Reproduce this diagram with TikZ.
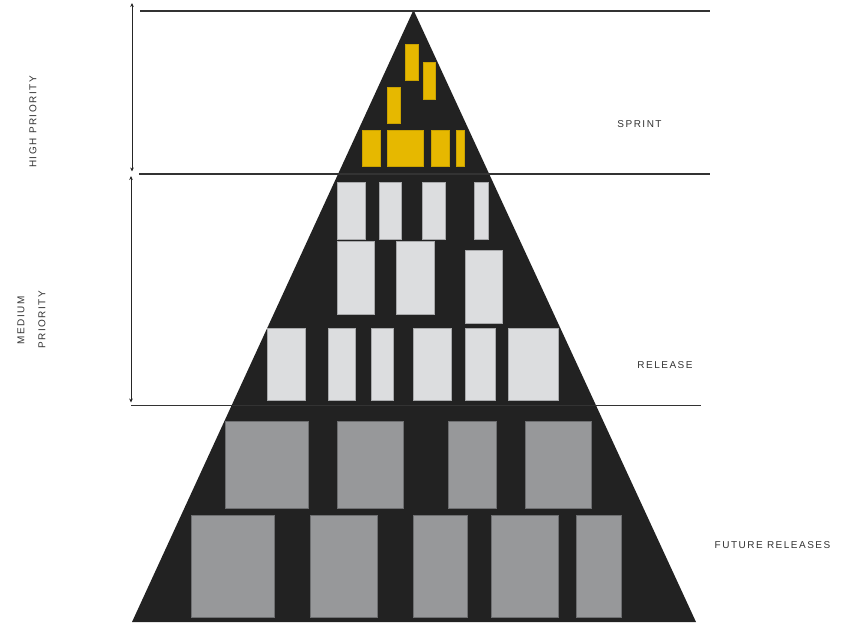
\documentclass[tikz,border=0pt]{standalone}
\usepackage{fontspec}
\usetikzlibrary{arrows.meta}
\newfontfamily\tagfont[LetterSpace=15]{Liberation Sans}
\definecolor{pyrdark}{HTML}{222222}
\definecolor{sprintfill}{HTML}{E6B800}
\definecolor{sprintedge}{HTML}{C9A200}
\definecolor{releasefill}{HTML}{DCDDDF}
\definecolor{releaseedge}{HTML}{A8A9AB}
\definecolor{futurefill}{HTML}{97989A}
\definecolor{futureedge}{HTML}{6E6F71}
\definecolor{tagtext}{HTML}{333333}
\begin{document}
\begin{tikzpicture}[x=1pt, y=-1pt, line cap=butt, line join=miter,
    sprintbox/.style={fill=sprintfill, draw=sprintedge, line width=0.6pt},
    releasebox/.style={fill=releasefill, draw=releaseedge, line width=0.6pt},
    futurebox/.style={fill=futurefill, draw=futureedge, line width=0.6pt},
    level/.style={draw=black!80, line width=1.1pt},
    span/.style={draw=black!85, line width=0.8pt, {Stealth[length=4pt,width=3.6pt]}-{Stealth[length=4pt,width=3.6pt]}},
    tag/.style={text=tagtext, inner sep=0pt, font=\tagfont\fontsize{10}{21}\selectfont}]
  \useasboundingbox (0,0) rectangle (846,622);
  \coordinate (apex) at (413.5,10);
  \coordinate (baseL) at (132,622);
  \coordinate (baseR) at (696,622);
  \fill[pyrdark] (apex) -- (baseR) -- (baseL) -- cycle;
  \draw[sprintbox] (405,44.3) rectangle (418.3,80.7);
  \draw[sprintbox] (423.7,62) rectangle (435.7,99.3);
  \draw[sprintbox] (387.3,87.3) rectangle (400.7,123.3);
  \draw[sprintbox] (362.3,130) rectangle (380.7,166);
  \draw[sprintbox] (387.3,130) rectangle (423.7,166);
  \draw[sprintbox] (431.3,130) rectangle (449,166);
  \draw[sprintbox] (456.7,130) rectangle (464.3,166);
  \draw[releasebox] (337,182) rectangle (365.7,239);
  \draw[releasebox] (379.7,182) rectangle (401.7,239);
  \draw[releasebox] (422.3,182) rectangle (445.7,239);
  \draw[releasebox] (474,182) rectangle (488.7,239);
  \draw[releasebox] (337,241) rectangle (374.3,314.7);
  \draw[releasebox] (396,241) rectangle (434.7,314.7);
  \draw[releasebox] (465.3,250) rectangle (502.7,323.3);
  \draw[releasebox] (267.7,328) rectangle (305.3,400);
  \draw[releasebox] (328,328) rectangle (355.7,400);
  \draw[releasebox] (371,328) rectangle (393,400);
  \draw[releasebox] (413.7,328) rectangle (451.3,400);
  \draw[releasebox] (465.3,328) rectangle (495,400);
  \draw[releasebox] (508,328) rectangle (558.7,400);
  \draw[futurebox] (224.9,421.3) rectangle (308.3,508.7);
  \draw[futurebox] (337,421.3) rectangle (402.8,508.7);
  \draw[futurebox] (448,421.3) rectangle (496.2,508.7);
  \draw[futurebox] (524.9,421.3) rectangle (591.5,508.7);
  \draw[futurebox] (191.2,515.7) rectangle (274.2,617.3);
  \draw[futurebox] (310.6,515.7) rectangle (377.6,617.3);
  \draw[futurebox] (413.5,515.7) rectangle (467.5,617.3);
  \draw[futurebox] (490.8,515.7) rectangle (557.8,617.3);
  \draw[futurebox] (576.6,515.7) rectangle (621.3,617.3);
  \coordinate (topL) at (140,11);
  \coordinate (topR) at (710,11);
  \coordinate (midL) at (139,174);
  \coordinate (midR) at (710,174);
  \coordinate (lowL) at (131,405.5);
  \coordinate (lowR) at (701,405.5);
  \draw[level] (topL) -- (topR);
  \draw[level] (midL) -- (midR);
  \draw[level] (lowL) -- (lowR);
  \coordinate (hiTop) at (132,3);
  \coordinate (hiBot) at (132,171.5);
  \coordinate (medTop) at (131,176);
  \coordinate (medBot) at (131,402.5);
  \draw[span] (hiTop) -- (hiBot);
  \draw[span] (medTop) -- (medBot);
  \node[tag, rotate=90] (highprio) at (33,122) {HIGH PRIORITY};
  \node[tag, rotate=90, align=center] (medprio) at (31.5,320) {MEDIUM\\PRIORITY};
  \node[tag] (sprint) at (639.5,124.5) {SPRINT};
  \node[tag] (release) at (665,365) {RELEASE};
  \node[tag] (future) at (772.5,545) {FUTURE RELEASES};
\end{tikzpicture}
\end{document}
